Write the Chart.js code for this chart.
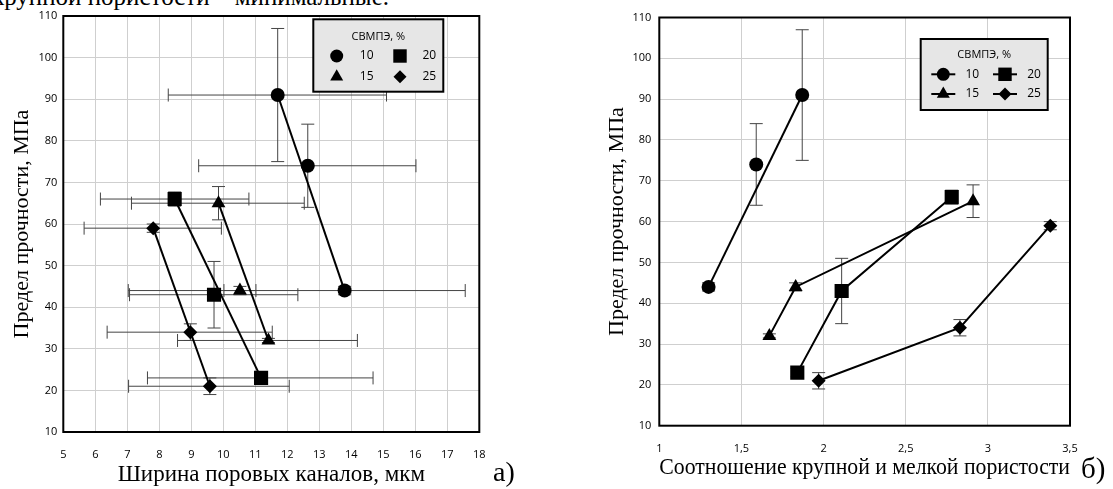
<!DOCTYPE html>
<html>
<head>
<meta charset="utf-8">
<script src="https://cdn.jsdelivr.net/npm/chart.js@4.4.1/dist/chart.umd.min.js"></script>
<style>
  body { margin: 0; width: 1113px; height: 489px; overflow: hidden; background: #fff; position: relative; }
  canvas { position: absolute; top: 0; }
  #chartA { left: 0; }
  #chartB { left: 560px; }
  .note { position: absolute; white-space: nowrap; color: #000; font-family: "Liberation Serif", serif; line-height: 1; }
</style>
</head>
<body>
<div class="note" style="left:-8px; top:-16px; font-size:25px;">крупной пористости – минимальные.</div>
<canvas id="chartA" width="560" height="489"></canvas>
<canvas id="chartB" width="553" height="489"></canvas>
<div class="note" style="left:493px; top:458px; font-size:28px;">а)</div>
<div class="note" style="left:1081px; top:454px; font-size:29px;">б)</div>
<script>
// содержание СВМПЭ, %
var contentLabels = ["10", "15", "20", "25"];

// предел прочности, МПа
var strength10 = [91, 74, 44];
var strength15 = [65, 44, 32];
var strength20 = [66, 43, 23];
var strength25 = [59, 34, 21];

var strengthLow10 = [75, 64, 43];
var strengthHigh10 = [107, 84, 45];
var strengthLow15 = [61, 43, 31.5];
var strengthHigh15 = [69, 45, 32.5];
var strengthLow20 = [64.3, 35, 22];
var strengthHigh20 = [67.7, 51, 24];
var strengthLow25 = [58, 32, 19];
var strengthHigh25 = [60, 36, 23];

// ширина поровых каналов, мкм
var poreWidth10 = [11.7, 12.64, 13.79];
var poreWidth15 = [9.85, 10.52, 11.41];
var poreWidth20 = [8.48, 9.71, 11.18];
var poreWidth25 = [7.81, 8.97, 9.58];

var poreWidthLow10 = [8.28, 9.23, 7.03];
var poreWidthHigh10 = [15.1, 16.02, 17.56];
var poreWidthLow15 = [7.13, 10.02, 8.57];
var poreWidthHigh15 = [12.53, 11.02, 14.19];
var poreWidthLow20 = [6.16, 7.07, 7.63];
var poreWidthHigh20 = [10.8, 12.33, 14.68];
var poreWidthLow25 = [5.65, 6.37, 7.04];
var poreWidthHigh25 = [9.94, 11.53, 12.06];

// соотношение крупной и мелкой пористости
var poreRatio10 = [1.87, 1.59, 1.30];
var poreRatio15 = [2.91, 1.83, 1.67];
var poreRatio20 = [2.78, 2.11, 1.84];
var poreRatio25 = [3.38, 2.83, 1.97];

// оси: min, max, шаг
var strengthAxis = [10, 110, 10];
var widthAxis = [5, 18, 1];
var ratioAxis = [1, 3.5, 0.5];

// какие точки соединены линией
var widthLines = [[0, 2], [0, 2], [0, 2], [0, 2]];
var ratioLines = [[0, 2], [0, 1, 2], [0, 1, 2], [0, 1, 2]];

var markerStyles = ["circle", "triangle", "rect", "rectRot"];
var markerRadius = [7, 8, 10, 7];

var errorBars = {
  id: "errorBars",
  beforeDatasetsDraw: function(chart) {
    var ctx = chart.ctx;
    var xs = chart.scales.x, ys = chart.scales.y;
    ctx.save();
    ctx.strokeStyle = "#444";
    ctx.lineWidth = 1;
    chart.data.datasets.forEach(function(ds) {
      if (!ds.errY) return;
      ds.data.forEach(function(p, k) {
        var px = xs.getPixelForValue(p.x), py = ys.getPixelForValue(p.y);
        var y1 = ys.getPixelForValue(ds.errY[0][k]), y2 = ys.getPixelForValue(ds.errY[1][k]);
        ctx.beginPath();
        ctx.moveTo(px, y1); ctx.lineTo(px, y2);
        ctx.moveTo(px - 6.5, y1); ctx.lineTo(px + 6.5, y1);
        ctx.moveTo(px - 6.5, y2); ctx.lineTo(px + 6.5, y2);
        ctx.stroke();
        if (ds.errX) {
          var x1 = xs.getPixelForValue(ds.errX[0][k]), x2 = xs.getPixelForValue(ds.errX[1][k]);
          ctx.beginPath();
          ctx.moveTo(x1, py); ctx.lineTo(x2, py);
          ctx.moveTo(x1, py - 6.5); ctx.lineTo(x1, py + 6.5);
          ctx.moveTo(x2, py - 6.5); ctx.lineTo(x2, py + 6.5);
          ctx.stroke();
        }
      });
    });
    ctx.restore();
  }
};

var frameAndLegend = {
  id: "frameAndLegend",
  afterDraw: function(chart) {
    var ctx = chart.ctx;
    var a = chart.chartArea;
    var opt = chart.options.plugins.frameAndLegend;
    ctx.save();
    ctx.strokeStyle = "#000";
    ctx.lineWidth = 2;
    ctx.strokeRect(a.left, a.top, a.right - a.left, a.bottom - a.top);

    // легенда
    var bx = opt.x, by = opt.y;
    ctx.fillStyle = "#e6e6e6";
    ctx.fillRect(bx, by, opt.w, opt.h);
    ctx.strokeRect(bx, by, opt.w, opt.h);
    ctx.fillStyle = "#000";
    ctx.font = "11px 'Open Sans'";
    ctx.textAlign = "center";
    ctx.textBaseline = "middle";
    ctx.fillText("СВМПЭ, %", bx + opt.w / 2, by + opt.titleY);
    ctx.font = "12px 'Open Sans'";
    var order = [0, 2, 1, 3];
    order.forEach(function(s, i) {
      var col = i % 2, row = Math.floor(i / 2);
      var mx = bx + opt.markX[col], my = by + opt.rowY[row];
      if (opt.withLine) {
        ctx.lineWidth = 2;
        ctx.beginPath();
        ctx.moveTo(mx - 12, my); ctx.lineTo(mx + 12, my);
        ctx.stroke();
      }
      Chart.helpers.drawPoint(ctx, {
        pointStyle: markerStyles[s], radius: markerRadius[s] - 0.5, rotation: 0, borderWidth: 0
      }, mx, my);
      ctx.fillText(contentLabels[s], bx + opt.textX[col], my);
    });
    ctx.restore();
  }
};

function buildChart(canvasId, xValues, xLow, xHigh, xAxis, lines, layout) {
  var datasets = [];
  for (var s = 0; s < 4; s++) {
    var pts = xValues[s].map(function(x, k) { return { x: x, y: yValues[s][k] }; });
    datasets.push({
      type: "scatter",
      label: contentLabels[s],
      data: pts,
      pointStyle: markerStyles[s],
      pointRadius: markerRadius[s],
      backgroundColor: "#000",
      borderColor: "#000",
      borderWidth: 0,
      errY: [yLow[s], yHigh[s]],
      errX: xLow ? [xLow[s], xHigh[s]] : null,
      order: 0
    });
    datasets.push({
      type: "line",
      data: lines[s].map(function(k) { return pts[k]; }),
      borderColor: "#000",
      borderWidth: 2,
      pointRadius: 0,
      tension: 0,
      fill: false,
      order: 1
    });
  }

  return new Chart(document.getElementById(canvasId), {
    data: { datasets: datasets },
    options: {
      responsive: false,
      animation: false,
      layout: { padding: layout.padding },
      plugins: {
        legend: { display: false },
        tooltip: { enabled: false },
        frameAndLegend: layout.legend
      },
      scales: {
        x: {
          type: "linear",
          min: xAxis[0], max: xAxis[1],
          afterFit: function(sc) { sc.height = layout.xHeight; },
          border: { display: false },
          grid: { color: "#cfcfcf", drawTicks: false },
          ticks: {
            stepSize: xAxis[2],
            padding: layout.xPad,
            color: "#000",
            font: { family: "Open Sans", size: 11 },
            callback: function(v) { return String(v).replace(".", ","); }
          },
          title: {
            display: true,
            text: layout.xTitle,
            color: "#000",
            font: { family: "Liberation Serif", size: layout.xTitleSize },
            padding: { top: 0, bottom: layout.xTitlePad }
          }
        },
        y: {
          type: "linear",
          min: strengthAxis[0], max: strengthAxis[1],
          afterFit: function(sc) { sc.width = layout.yWidth; },
          border: { display: false },
          grid: { color: "#cfcfcf", drawTicks: false },
          ticks: {
            stepSize: strengthAxis[2],
            padding: layout.yPad,
            color: "#000",
            font: { family: "Open Sans", size: 11 }
          },
          title: {
            display: true,
            text: "Предел прочности, МПа",
            color: "#000",
            font: { family: "Liberation Serif", size: 22 },
            padding: { top: layout.yTitlePad, bottom: 0 }
          }
        }
      }
    },
    plugins: [errorBars, frameAndLegend]
  });
}

var yValues = [strength10, strength15, strength20, strength25];
var yLow = [strengthLow10, strengthLow15, strengthLow20, strengthLow25];
var yHigh = [strengthHigh10, strengthHigh15, strengthHigh20, strengthHigh25];

var chartA = buildChart("chartA",
  [poreWidth10, poreWidth15, poreWidth20, poreWidth25],
  [poreWidthLow10, poreWidthLow15, poreWidthLow20, poreWidthLow25],
  [poreWidthHigh10, poreWidthHigh15, poreWidthHigh20, poreWidthHigh25],
  widthAxis, widthLines, {
    padding: { left: 0, top: 16, right: 80.7, bottom: 0 },
    xHeight: 57, yWidth: 63.3, xPad: 16, yPad: 6,
    xTitle: "Ширина поровых каналов, мкм", xTitleSize: 23, xTitlePad: 0, yTitlePad: 9,
    legend: { x: 313.3, y: 19.3, w: 130, h: 72.4, titleY: 17.4, rowY: [36.7, 57.4],
              markX: [23.4, 86.7], textX: [53.4, 116], withLine: false }
  });

var chartB = buildChart("chartB",
  [poreRatio10, poreRatio15, poreRatio20, poreRatio25],
  null, null,
  ratioAxis, ratioLines, {
    padding: { left: 0, top: 17.5, right: 43, bottom: 0 },
    xHeight: 63.3, yWidth: 99.3, xPad: 17, yPad: 8,
    xTitle: "Соотношение крупной и мелкой пористости", xTitleSize: 24, xTitlePad: 7, yTitlePad: 44,
    legend: { x: 360.7, y: 39, w: 127, h: 71, titleY: 16, rowY: [35.3, 55],
              markX: [22.6, 84.3], textX: [51.6, 113.3], withLine: true }
  });
</script>
</body>
</html>
